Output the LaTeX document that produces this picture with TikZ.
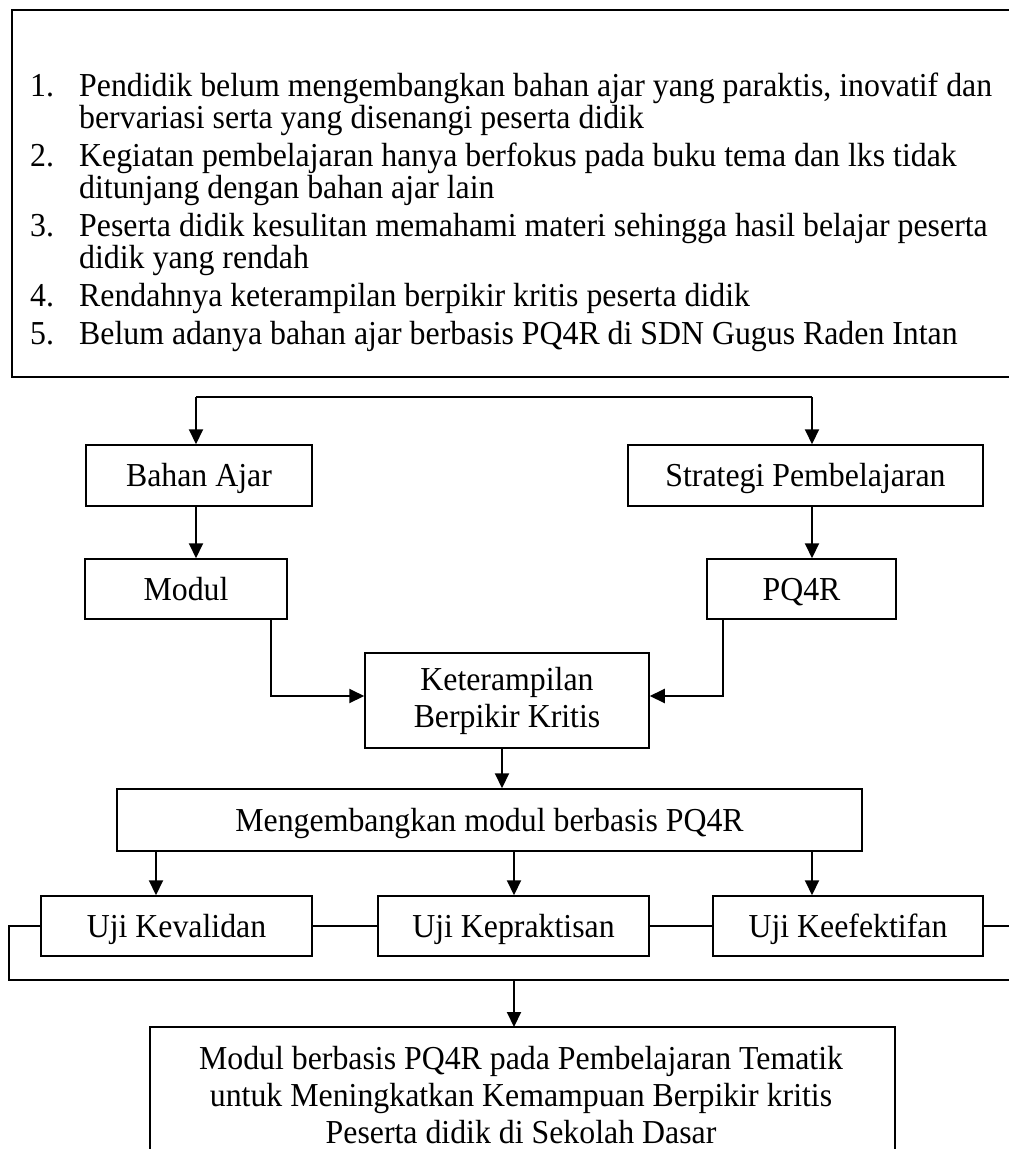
\documentclass[tikz,border=0pt]{standalone}
\usepackage{fontspec}
\setmainfont{Liberation Serif}[FakeStretch=0.95]
\usetikzlibrary{arrows.meta}
\begin{document}
\begin{tikzpicture}[x=1pt,y=-1pt,
  every node/.style={font=\fontsize{33.5}{37}\selectfont, inner sep=0pt},
  box/.style={draw, line width=1.5pt, text height=23pt, text depth=1pt},
  mbox/.style={draw, line width=1.5pt, align=center},
  conn/.style={line width=2pt},
  arr/.style={conn, -{Triangle[length=15pt,width=14pt]}},
  item/.style={anchor=base west}]
\useasboundingbox (0,0) rectangle (1009,1149);
% top box (right side cut off)
\draw[line width=1.5pt] (1020,10) -- (12,10) -- (12,377) -- (1020,377);
\node[item] (n1) at (30,96) {1.};
\node[item] (t1) at (79,96) {Pendidik belum mengembangkan bahan ajar yang paraktis, inovatif dan};
\node[item] (t1b) at (79,128) {bervariasi serta yang disenangi peserta didik};
\node[item] (n2) at (30,166) {2.};
\node[item] (t2) at (79,166) {Kegiatan pembelajaran hanya berfokus pada buku tema dan lks tidak};
\node[item] (t2b) at (79,198) {ditunjang dengan bahan ajar lain};
\node[item] (n3) at (30,236) {3.};
\node[item] (t3) at (79,236) {Peserta didik kesulitan memahami materi sehingga hasil belajar peserta};
\node[item] (t3b) at (79,268) {didik yang rendah};
\node[item] (n4) at (30,306) {4.};
\node[item] (t4) at (79,306) {Rendahnya keterampilan berpikir kritis peserta didik};
\node[item] (n5) at (30,344) {5.};
\node[item] (t5) at (79,344) {Belum adanya bahan ajar berbasis PQ4R di SDN Gugus Raden Intan};

% boxes
\node[box, minimum width=226pt, minimum height=61pt] (bahan) at (199,475.5) {Bahan Ajar};
\node[box, minimum width=355pt, minimum height=61pt] (strat) at (805.5,475.5) {Strategi Pembelajaran};
\node[box, minimum width=202pt, minimum height=60pt] (modul) at (186,589) {Modul};
\node[box, minimum width=189pt, minimum height=60pt] (pq) at (801.5,589) {PQ4R};
\node[mbox, minimum width=284pt, minimum height=95pt] (ket) at (507,700.5) {Keterampilan\\Berpikir Kritis};
\node[box, minimum width=745pt, minimum height=62pt] (meng) at (489.5,820) {Mengembangkan modul berbasis PQ4R};
\node[box, minimum width=271pt, minimum height=60pt] (val) at (176.5,926) {Uji Kevalidan};
\node[box, minimum width=271pt, minimum height=60pt] (prak) at (513.5,926) {Uji Kepraktisan};
\node[box, minimum width=270pt, minimum height=60pt] (efek) at (848,926) {Uji Keefektifan};
% final box (bottom cut off)
\coordinate (fTL) at (150,1027);
\coordinate (fTR) at (895,1027);
\draw[line width=1.5pt] (150,1170) -- (fTL) -- (fTR) -- (895,1170);
\node[align=center, anchor=north] (final) at (521,1046) {Modul berbasis PQ4R pada Pembelajaran Tematik\\untuk Meningkatkan Kemampuan Berpikir kritis\\Peserta didik di Sekolah Dasar};

% top bracket
\coordinate (bl) at (196,397);
\coordinate (br) at (812,397);
\draw[conn] (bl) -- (br);
\draw[arr] (bl) -- (bahan.north -| bl);
\draw[arr] (br) -- (strat.north -| br);
\draw[arr] (bahan.south -| bl) -- (modul.north -| bl);
\draw[arr] (strat.south -| br) -- (pq.north -| br);
\draw[arr] (modul.south -| 271,0) -- (271,696) -- (ket.west |- 0,696);
\draw[arr] (pq.south -| 723,0) -- (723,696) -- (ket.east |- 0,696);
\draw[arr] (ket.south -| 502,0) -- (meng.north -| 502,0);
\draw[arr] (meng.south -| 156,0) -- (val.north -| 156,0);
\draw[arr] (meng.south -| 514,0) -- (prak.north -| 514,0);
\draw[arr] (meng.south -| 812,0) -- (efek.north -| 812,0);
% test row connections
\coordinate (lc) at (9,980);
\coordinate (rc) at (1020,980);
\draw[conn] (val.west) -- (9,926) -- (lc) -- (rc);
\draw[conn] (val.east) -- (prak.west);
\draw[conn] (prak.east) -- (efek.west);
\draw[conn] (efek.east) -- (1020,926);
\draw[arr] (514,980) -- (fTL -| 514,0);
\end{tikzpicture}
\end{document}
